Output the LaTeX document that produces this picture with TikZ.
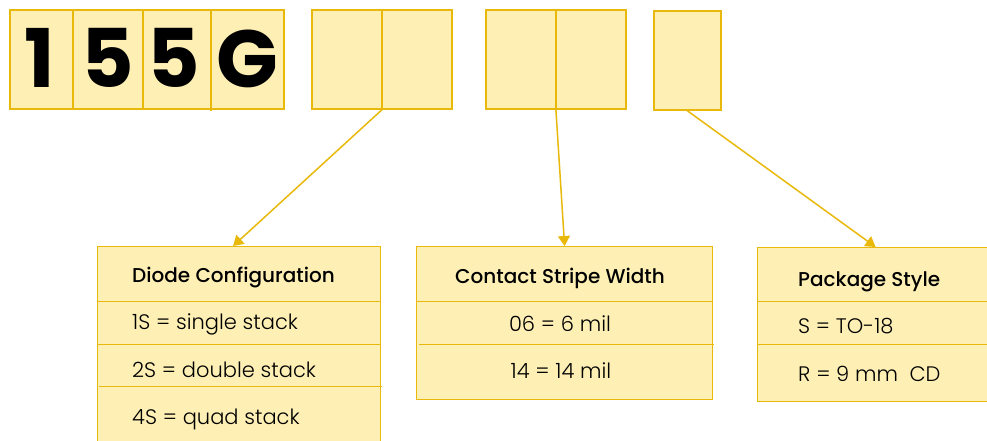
\documentclass[tikz,border=0pt]{standalone}
\usepackage{fontspec}
\setmainfont{Poppins}
\newfontfamily\lightfont{Poppins}[UprightFont={* Light}]
\newfontfamily\mediumfont{Poppins}[UprightFont={* Medium}]
\usetikzlibrary{calc,positioning,arrows.meta}
\definecolor{boxfill}{HTML}{FEF0B5}
\definecolor{boxline}{HTML}{E8B90A}

\begin{document}
\begin{tikzpicture}[x=1pt,y=-1pt,
    cell/.style={draw=boxline,fill=boxfill,line width=1.8pt,minimum height=99pt,
      inner sep=0pt,anchor=north west},
    digit/.style={font=\fontsize{81}{81}\selectfont\bfseries,text=black,anchor=base,inner sep=0pt},
    tbl/.style={draw=boxline,fill=boxfill,line width=1.2pt,anchor=north west,inner sep=0pt},
    head/.style={font=\mediumfont\fontsize{20}{24}\selectfont,anchor=base west,inner sep=0pt},
    entry/.style={font=\lightfont\fontsize{21}{25}\selectfont,anchor=base west,inner sep=0pt},
    rule/.style={draw=boxline,line width=1pt},
    link/.style={draw=boxline,line width=1.5pt,-{Triangle[length=10pt,width=12pt]}}]
 \useasboundingbox (0,0) rectangle (987,441);
 \clip (0,0) rectangle (987,441);
 % part number boxes
 \node[cell,minimum width=274pt] (pn) at (9,9) {};
 \foreach \X in {73,143} {\draw[boxline,line width=1.8pt] (\X,9) -- (\X,108);}
 \draw[boxline,line width=1.8pt] (211,11) -- (211,111);
 \node[digit] (n1) at (40,88) {1};
 \node[digit] (n2) at (108,88) {5};
 \node[digit] (n3) at (174,88) {5};
 \node[digit] (n4) at (247,88) {G};
 \node[cell,minimum width=140pt] (dc) at (311,9) {};
 \draw[boxline,line width=1.8pt] (dc.north) -- (dc.south);
 \node[cell,minimum width=140pt] (cs) at (485,9) {};
 \draw[boxline,line width=1.8pt] (cs.north) -- (cs.south);
 \node[cell,minimum width=67pt] (ps) at (653,10) {};
 % tables
 \node[tbl,minimum width=283pt,minimum height=220pt] (t1) at (97,246) {};
 \node[tbl,minimum width=296pt,minimum height=153pt] (t2) at (416,246) {};
 \node[tbl,minimum width=236pt,minimum height=154pt] (t3) at (757,247) {};
 \draw[rule] (97,301) -- (380,301) (97,344) -- (380,344) (99,386) -- (382,386);
 \draw[rule] (416,301) -- (712,301) (419,344) -- (714,344);
 \draw[rule] (757,301) -- (987,301) (757,344) -- (987,344);
 \node[head] (h1) at (132,282) {Diode Configuration};
 \node[entry] (e11) at (132,329) {1S = single stack};
 \node[entry] (e12) at (132,377) {2S = double stack};
 \node[entry] (e13) at (132,424) {4S = quad stack};
 \node[head,anchor=base] (h2) at (560,283) {Contact Stripe Width};
 \node[entry,anchor=base] (e21) at (560,331) {06 = 6 mil};
 \node[entry,anchor=base] (e22) at (561,378) {14 = 14 mil};
 \node[head] (h3) at (798,286) {Package Style};
 \node[entry] (e31) at (798,333) {S = TO-18};
 \node[entry] (e32) at (798,381) {R = 9 mm\ \ CD};
 % arrows
 \draw[link] (dc.south) -- ($(t1.north)+(-6,0)$);
 \draw[link] (cs.south) -- (t2.north);
 \draw[link] (ps.south) -- (t3.north);
\end{tikzpicture}
\end{document}
